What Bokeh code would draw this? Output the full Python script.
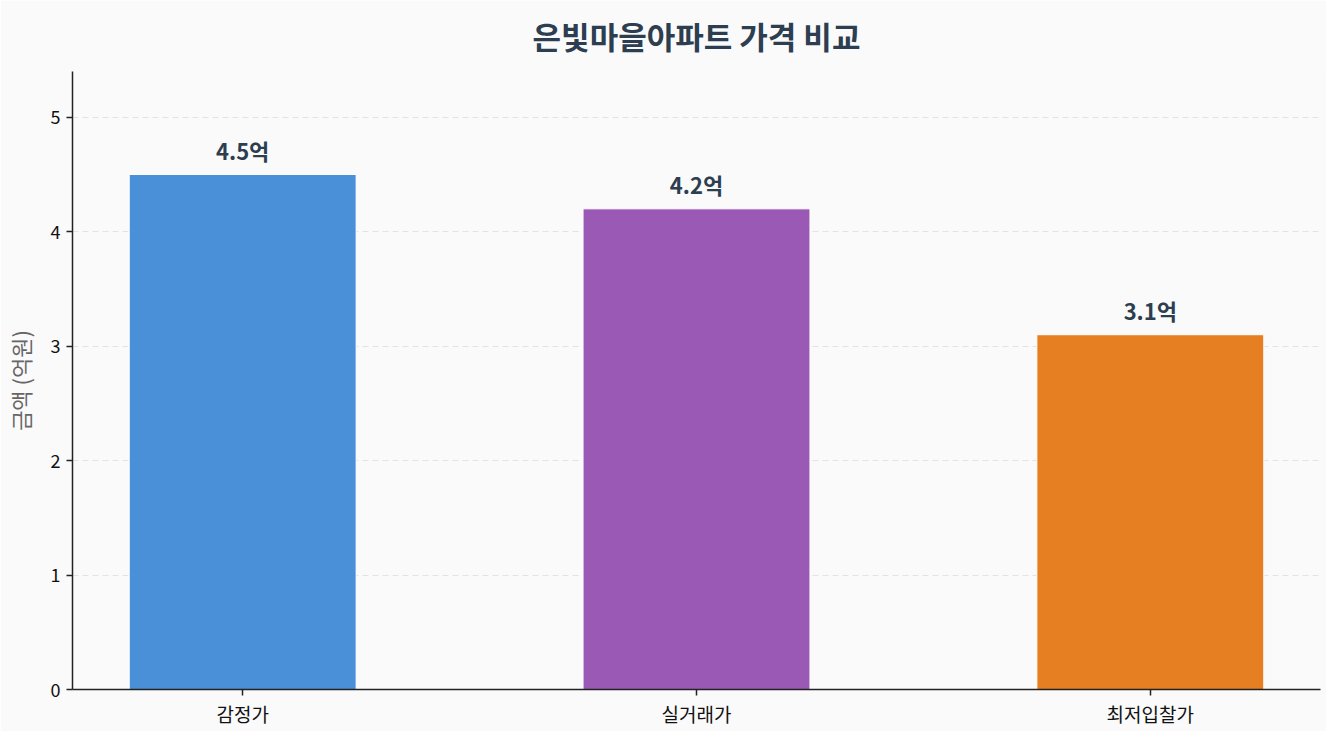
from bokeh.plotting import figure
from bokeh.models import ColumnDataSource, Range1d, FixedTicker, Title
from bokeh.core.properties import value
from bokeh.embed import file_html
from bokeh.resources import INLINE

categories = ["감정가", "실거래가", "최저입찰가"]
prices = [4.5, 4.2, 3.1]
colors = ["#4a90d9", "#9b59b6", "#e67e22"]
labels = ["4.5억", "4.2억", "3.1억"]
y_ticks = [0, 1, 2, 3, 4, 5]

FONT = "Noto Sans CJK KR"
BG = "#fafafa"

xs = list(range(len(categories)))
src = ColumnDataSource(dict(x=xs, top=prices, color=colors, label=labels))

p = figure(frame_width=1248, frame_height=618, output_backend="svg", toolbar_location=None,
           x_range=Range1d(-0.375, 2.375), y_range=Range1d(0, 5.4),
           min_border_left=68, min_border_right=6, min_border_top=68, min_border_bottom=42)
p.background_fill_color = BG
p.border_fill_color = BG
p.outline_line_color = None

t = Title(text="은빛마을아파트 가격 비교", align="center", vertical_align="top",
          text_font=FONT, text_font_size="31px", text_font_style="bold",
          text_color="#2c3e50", standoff=24, offset=0)
p.add_layout(t, "above")

p.vbar(x="x", top="top", width=0.5, bottom=0, fill_color="color",
       line_color="white", line_width=1, source=src)
p.text(x="x", y="top", text="label", source=src, text_align="center",
       text_baseline="bottom", y_offset=-9, text_font=value(FONT),
       text_font_size="22px", text_font_style="bold", text_color="#2c3e50")

p.xaxis.ticker = FixedTicker(ticks=xs)
p.xaxis.major_label_overrides = {i: c for i, c in enumerate(categories)}
p.yaxis.ticker = FixedTicker(ticks=y_ticks)
p.yaxis.axis_label = "금액 (억원)"
for ax in (p.xaxis[0], p.yaxis[0]):
    ax.axis_line_color = "#222222"
    ax.axis_line_width = 1.5
    ax.major_tick_line_color = "#222222"
    ax.major_tick_line_width = 1.5
    ax.major_tick_out = 6
    ax.major_tick_in = 0
    ax.minor_tick_line_color = None
    ax.major_label_text_font = FONT
    ax.major_label_text_color = "#111111"
p.xaxis.major_label_text_font_size = "19px"
p.yaxis.major_label_text_font_size = "18px"
p.xaxis.major_label_standoff = 4
p.yaxis.major_label_standoff = 6
p.yaxis.axis_label_text_font = FONT
p.yaxis.axis_label_text_font_size = "22px"
p.yaxis.axis_label_text_font_style = "normal"
p.yaxis.axis_label_text_color = "#666666"
p.yaxis.axis_label_standoff = 12

p.xgrid.grid_line_color = None
p.ygrid.grid_line_color = "#dddddd"
p.ygrid.grid_line_alpha = 0.8
p.ygrid.grid_line_dash = "6 4"
p.ygrid.grid_line_width = 1

open("out.html", "w").write(file_html(p, INLINE))
